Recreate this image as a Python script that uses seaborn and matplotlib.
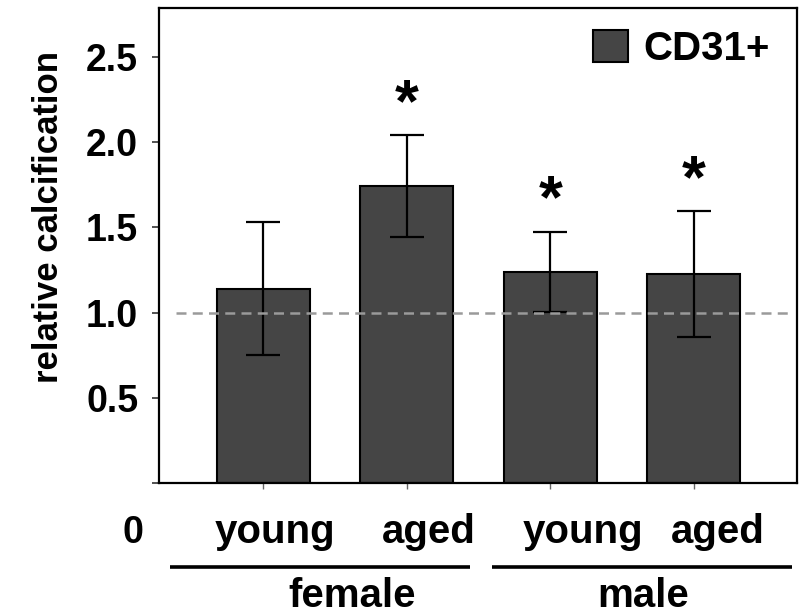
import numpy as np
import pandas as pd
import matplotlib
matplotlib.use("Agg")
import matplotlib.pyplot as plt
import seaborn as sns

# Relative calcification of CD31+ cells by sex and age
groups = ["female young", "female aged", "male young", "male aged"]
age_labels = ["young", "aged", "young", "aged"]
sex_labels = ["female", "male"]
means = [1.14, 1.74, 1.24, 1.225]
errors = [0.39, 0.30, 0.235, 0.37]
significant = [False, True, True, True]
series_name = "CD31+"
y_ticks = [0.0, 0.5, 1.0, 1.5, 2.0, 2.5]
y_tick_labels = ["", "0.5", "1.0", "1.5", "2.0", "2.5"]
reference_level = 1.0

sns.set_style("ticks")
plt.rcParams["font.family"] = ["Liberation Sans", "DejaVu Sans"]
plt.rcParams["font.weight"] = "bold"
plt.rcParams["text.color"] = "black"
plt.rcParams["axes.labelcolor"] = "black"
plt.rcParams["xtick.labelcolor"] = "black"
plt.rcParams["ytick.labelcolor"] = "black"

df = pd.DataFrame({"group": groups, "value": means, "series": series_name})

fig = plt.figure(figsize=(8, 6.16), dpi=100)
ax = fig.add_axes([0.19875, 0.2159, 0.7975, 0.7711])

bar_color = "#454545"
sns.barplot(data=df, x="group", y="value", hue="series", palette=[bar_color],
            width=0.65, errorbar=None, edgecolor="black", linewidth=1.5,
            saturation=1, ax=ax)

pos = np.arange(len(groups))
ax.errorbar(pos, means, yerr=errors, fmt="none", ecolor="black",
            elinewidth=1.6, capsize=12, capthick=1.6, zorder=4)

# reference line at 1.0
ax.axhline(reference_level, xmin=0.027, xmax=0.986, color="#9a9a9a",
           lw=1.8, ls=(0, (4, 2.5)), zorder=5)

# significance marks
for x, m, e, s in zip(pos, means, errors, significant):
    if s:
        ax.text(x, m + e + 0.083, "*", ha="center", va="baseline",
                fontsize=44, fontweight="bold", color="black")

ax.set_xlim(-0.728, 3.72)
ax.set_ylim(0, 2.786)
ax.set_yticks(y_ticks)
ax.set_yticklabels(y_tick_labels)
ax.set_xticks(pos)
ax.set_xticklabels([""] * len(pos))
ax.tick_params(axis="y", length=5, width=1.2, pad=10, labelsize=27,
               color="#333333", labelcolor="black")
ax.tick_params(axis="x", length=4, width=1.0, color="#666666")
for t in ax.get_yticklabels():
    t.set_fontweight("bold")
ax.set_xlabel("")
ax.set_ylabel("relative calcification", fontsize=25, fontweight="bold",
              color="black")
ax.yaxis.set_label_coords(-0.148, 0.56)

for sp in ax.spines.values():
    sp.set_visible(True)
    sp.set_color("black")
    sp.set_linewidth(1.6)

# category labels under the bars
label_shift = [0.08, 0.15, 0.23, 0.17]
for x, lab, dx in zip(pos, age_labels, label_shift):
    ax.text(x + dx, -0.126, lab, transform=ax.get_xaxis_transform(),
            ha="center", va="baseline", fontsize=29, fontweight="bold",
            color="black")
ax.text(-0.025, -0.126, "0", transform=ax.transAxes, ha="right",
        va="baseline", fontsize=27, fontweight="bold", color="black")

# sex brackets
for (x0, x1), xc, lab in zip([(0.017, 0.487), (0.522, 0.992)],
                             [0.3025, 0.7586], sex_labels):
    ax.plot([x0, x1], [-0.177, -0.177], transform=ax.transAxes,
            color="black", lw=2.6, clip_on=False, solid_capstyle="butt")
    ax.text(xc, -0.262, lab, transform=ax.transAxes, ha="center",
            va="baseline", fontsize=29, fontweight="bold", color="black")

handles, labels = ax.get_legend_handles_labels()
leg = ax.legend(handles, labels, loc="upper right",
                bbox_to_anchor=(0.958, 0.953), frameon=False,
                handlelength=0.85, handleheight=0.85, handletextpad=0.4,
                borderpad=0, borderaxespad=0,
                prop={"weight": "bold", "size": 29})
for t in leg.get_texts():
    t.set_color("black")

fig.savefig("out.png", dpi=100)
